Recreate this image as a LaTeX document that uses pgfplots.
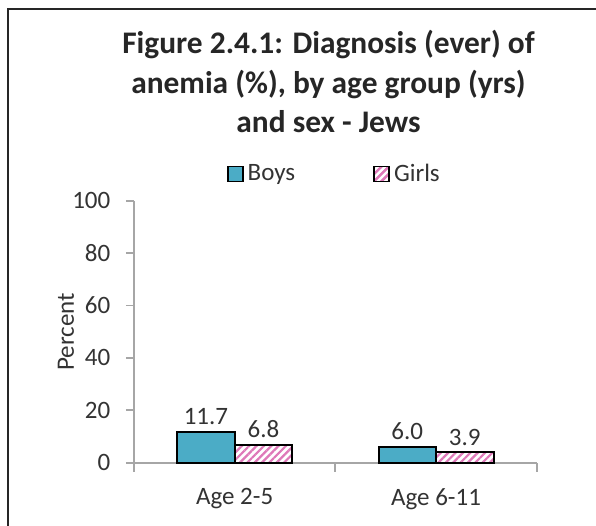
\documentclass[border=0pt]{standalone}
\usepackage{pgfplots}
\pgfplotsset{compat=1.18}
\usepackage{fontspec}
\setmainfont{Carlito}
\usetikzlibrary{patterns.meta}
\definecolor{boys}{HTML}{4BACC6}
\definecolor{girlsp}{RGB}{222,120,185}
\definecolor{txt}{HTML}{333333}
\definecolor{axgray}{HTML}{A6A6A6}
\begin{document}
\begin{tikzpicture}[x=0.5pt,y=0.5pt]
\useasboundingbox (0,0) rectangle (596,526);
\draw[line width=1.3pt, black!85] (8,-20) -- (8,517) -- (640,517);
\node[anchor=base, font=\fontsize{15.7}{19}\selectfont\bfseries, text=black!85] at (328.5,472.7) {Figure 2.4.1: Diagnosis (ever) of};
\node[anchor=base, font=\fontsize{15.7}{19}\selectfont\bfseries, text=black!85] at (328.5,432.7) {anemia (\%), by age group (yrs)};
\node[anchor=base, font=\fontsize{15.7}{19}\selectfont\bfseries, text=black!85] at (328.5,393.7) {and sex - Jews};
\begin{axis}[
  at={(67pt,31.65pt)}, anchor=south west,
  scale only axis, width=201.35pt, height=131pt,
  ymin=0, ymax=100, ytick={0,20,40,60,80,100},
  xmin=-0.5, xmax=1.5,
  xtick={0,1}, xticklabels={Age 2-5,Age 6-11},
  minor xtick={-0.5,0.5,1.5},
  axis x line=bottom, axis y line=left,
  axis line style={-, axgray, line width=0.9pt},
  tick align=outside, major tick length=4pt, minor tick length=4.5pt,
  major x tick style={draw=none},
  minor x tick style={axgray, line width=0.9pt},
  ytick style={axgray, line width=0.9pt},
  /pgf/number format/assume math mode=true,
  tick label style={font=\fontsize{12.5}{15}\selectfont, text=txt},
  yticklabel style={xshift=-4.3pt},
  xticklabel style={yshift=-5.3pt},
  every axis y label/.style={at={(axis description cs:-0.169,0.5)}, rotate=90, anchor=center, font=\fontsize{12.5}{15}\selectfont, text=txt},
  ylabel={Percent},
  ybar=0pt, bar width=28.75pt,
  nodes near coords={\pgfmathprintnumber[fixed,zerofill,precision=1]{\pgfplotspointmeta}},
  every node near coord/.append style={font=\fontsize{12.5}{15}\selectfont, text=txt, inner sep=0pt, yshift=3pt, anchor=south},
  legend columns=2,
  legend style={at={(0.5,1.102)}, anchor=center, draw=none, fill=none, font=\fontsize{12.5}{15}\selectfont, text=txt,
    /tikz/every even column/.append style={column sep=37pt}},
  clip=false,
]
\addplot[draw=black, line width=1pt, fill=boys,
  legend image code/.code={\draw[draw=black, line width=0.9pt, fill=boys] (0pt,-3.75pt) rectangle (7.5pt,3.75pt);}]
  coordinates {(0,11.7) (1,6.0)};
\addlegendentry{Boys}
\addplot[draw=black, line width=1pt, fill=white, postaction={pattern={Lines[angle=45,distance=2.6pt,line width=1.1pt]}, pattern color=girlsp},
  legend image code/.code={\draw[draw=black, line width=0.9pt, fill=white, postaction={pattern={Lines[angle=45,distance=2.6pt,line width=1.1pt]}, pattern color=girlsp}] (0pt,-3.75pt) rectangle (7.5pt,3.75pt);}]
  coordinates {(0,6.8) (1,3.9)};
\addlegendentry{Girls}
\end{axis}
\end{tikzpicture}
\end{document}
